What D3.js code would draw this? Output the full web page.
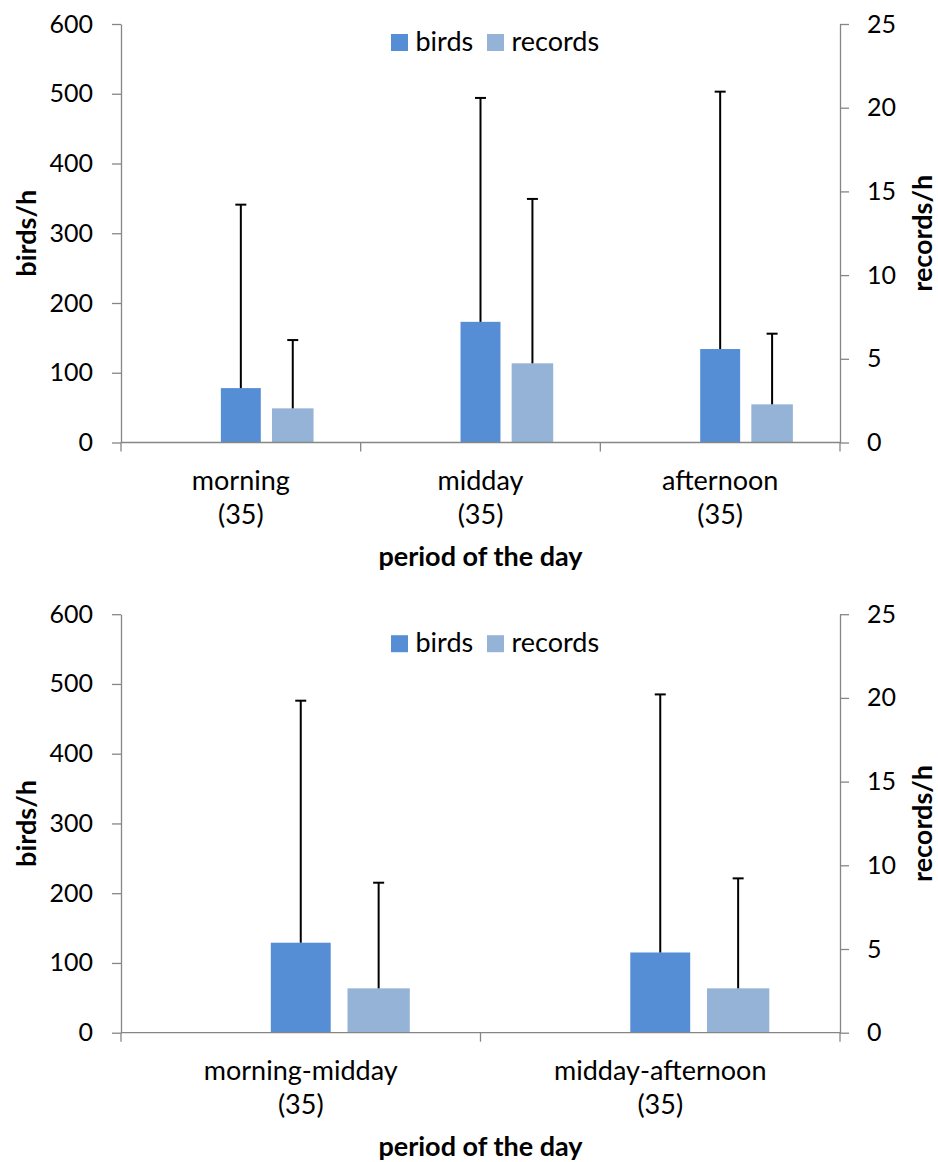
<!DOCTYPE html>
<html>
<head>
<meta charset="utf-8">
<script src="https://cdn.jsdelivr.net/npm/d3@7"></script>
<style>
  html, body { margin: 0; padding: 0; background: #fff; }
  svg { display: block; }
  text { font-family: Lato, "Open Sans", sans-serif; fill: #000; }
</style>
</head>
<body>
<svg id="chart" width="938" height="1162"></svg>
<script>
// ---------- data ----------
const topCategories = ["morning", "midday", "afternoon"];
const topCounts = ["(35)", "(35)", "(35)"];
const topBirds = [78, 173, 134];
const topBirdsErr = [263, 321, 369];
const topRecords = [2.04, 4.73, 2.28];
const topRecordsErr = [4.08, 9.82, 4.22];

const bottomCategories = ["morning-midday", "midday-afternoon"];
const bottomCounts = ["(35)", "(35)"];
const bottomBirds = [129, 115];
const bottomBirdsErr = [347, 370];
const bottomRecords = [2.65, 2.65];
const bottomRecordsErr = [6.31, 6.57];

const leftTicks = [0, 100, 200, 300, 400, 500, 600];
const rightTicks = [0, 5, 10, 15, 20, 25];
const seriesNames = ["birds", "records"];
const seriesColors = ["#558ED5", "#95B3D7"];
const xTitle = "period of the day";
const leftTitle = "birds/h";
const rightTitle = "records/h";

// ---------- layout ----------
const svg = d3.select("#chart");
const FS_TICK = 25;
const FS = 27;
const axisColor = "#868686";

function drawPanel(offsetY, legendOffset, cats, counts, birds, birdsErr, recs, recsErr) {
  const g = svg.append("g").attr("transform", `translate(0,${offsetY})`);
  const x0 = 121, x1 = 840, yTop = 24, yBot = 442.5;

  const x = d3.scaleBand().domain(cats).range([x0, x1]).paddingInner(0).paddingOuter(0);
  const yL = d3.scaleLinear().domain([0, 600]).range([yBot, yTop]);
  const yR = d3.scaleLinear().domain([0, 25]).range([yBot, yTop]);
  const bw = x.bandwidth() / 6;

  const data = cats.map((c, i) => ({
    c, n: counts[i], b: birds[i], be: birdsErr[i], r: recs[i], re: recsErr[i]
  }));

  // bars
  g.selectAll("rect.birds").data(data).enter().append("rect")
    .attr("class", "birds")
    .attr("x", d => x(d.c) + x.bandwidth() / 2 - bw / 2)
    .attr("width", bw)
    .attr("y", d => yL(d.b))
    .attr("height", d => yBot - yL(d.b))
    .attr("fill", seriesColors[0]);

  const rw = bw * 1.04;
  g.selectAll("rect.recs").data(data).enter().append("rect")
    .attr("class", "recs")
    .attr("x", d => x(d.c) + x.bandwidth() / 2 + bw * 1.3 - rw / 2)
    .attr("width", rw)
    .attr("y", d => yR(d.r))
    .attr("height", d => yBot - yR(d.r))
    .attr("fill", seriesColors[1]);

  // error bars (upper only)
  const cap = 5.5;
  data.forEach(d => {
    const cx1 = x(d.c) + x.bandwidth() / 2;
    const cx2 = cx1 + bw * 1.3;
    [[cx1, yL(d.b), yL(d.b + d.be)], [cx2, yR(d.r), yR(d.r + d.re)]].forEach(([cx, ya, yb]) => {
      g.append("line").attr("x1", cx).attr("x2", cx).attr("y1", ya).attr("y2", yb)
        .attr("stroke", "#000").attr("stroke-width", 2);
      g.append("line").attr("x1", cx - cap).attr("x2", cx + cap).attr("y1", yb).attr("y2", yb)
        .attr("stroke", "#000").attr("stroke-width", 2);
    });
  });

  // left axis
  const la = g.append("g").attr("transform", `translate(${x0},0)`)
    .call(d3.axisLeft(yL).tickValues(leftTicks).tickSizeInner(9).tickSizeOuter(0).tickPadding(19));
  // right axis
  const ra = g.append("g").attr("transform", `translate(${x1},0)`)
    .call(d3.axisRight(yR).tickValues(rightTicks).tickSizeInner(9).tickSizeOuter(0).tickPadding(18));
  [la, ra].forEach(a => {
    a.selectAll("path, line").attr("stroke", axisColor).attr("stroke-width", 1.3);
    a.selectAll("text").style("font-size", FS_TICK + "px").attr("fill", "#000")
      .style("font-family", "Lato, 'Open Sans', sans-serif");
  });

  // bottom axis: domain line + boundary ticks
  g.append("line").attr("x1", x0).attr("x2", x1).attr("y1", yBot).attr("y2", yBot)
    .attr("stroke", axisColor).attr("stroke-width", 1.3);
  const bounds = cats.map(c => x(c)).concat([x1]);
  g.selectAll("line.xt").data(bounds).enter().append("line")
    .attr("x1", d => d).attr("x2", d => d).attr("y1", yBot).attr("y2", yBot + 9)
    .attr("stroke", axisColor).attr("stroke-width", 1.3);

  // category labels
  data.forEach(d => {
    const cx = x(d.c) + x.bandwidth() / 2;
    const t = g.append("text").attr("text-anchor", "middle").style("font-size", FS + "px");
    t.append("tspan").attr("x", cx).attr("y", yBot + 47).text(d.c);
    t.append("tspan").attr("x", cx).attr("y", yBot + 81.5).text(d.n);
  });

  // axis titles
  g.append("text").attr("x", (x0 + x1) / 2).attr("y", yBot + 123.5)
    .attr("text-anchor", "middle").style("font-size", FS + "px").style("font-weight", "bold")
    .text(xTitle);
  g.append("text").attr("transform", `translate(36,${(yTop + yBot) / 2}) rotate(-90)`)
    .attr("text-anchor", "middle").style("font-size", FS + "px").style("font-weight", "bold")
    .text(leftTitle);
  g.append("text").attr("transform", `translate(932,${(yTop + yBot) / 2}) rotate(-90)`)
    .attr("text-anchor", "middle").style("font-size", FS + "px").style("font-weight", "bold")
    .text(rightTitle);

  // legend
  const lg = g.append("g").attr("transform", `translate(0,${legendOffset})`);
  const lx = [391, 487];
  seriesNames.forEach((s, i) => {
    lg.append("rect").attr("x", lx[i]).attr("y", 34).attr("width", 17).attr("height", 17)
      .attr("fill", seriesColors[i]);
    lg.append("text").attr("x", lx[i] + 24.5).attr("y", 50.5).style("font-size", FS + "px").text(s);
  });
}

drawPanel(0, 0, topCategories, topCounts, topBirds, topBirdsErr, topRecords, topRecordsErr);
drawPanel(590.2, 11, bottomCategories, bottomCounts, bottomBirds, bottomBirdsErr, bottomRecords, bottomRecordsErr);
</script>
</body>
</html>
